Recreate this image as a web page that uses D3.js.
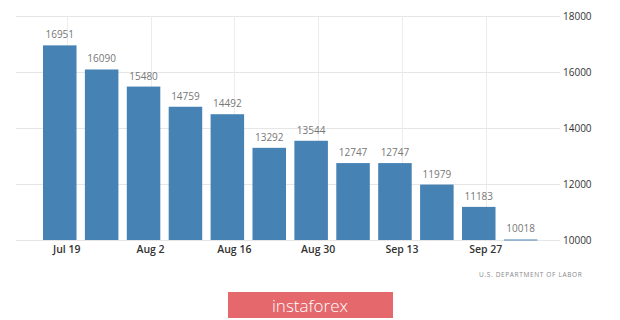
<!DOCTYPE html>
<html>
<head>
<meta charset="utf-8">
<title>Continuing claims</title>
<script src="https://d3js.org/d3.v7.min.js"></script>
<style>
  body { margin: 0; background: #fff; }
  text { font-family: "Open Sans", "DejaVu Sans", sans-serif; }
</style>
</head>
<body>
<div id="chart"></div>
<script>
// weekly values (thousands)
var weeks = ["Jul 19", "Jul 26", "Aug 2", "Aug 9", "Aug 16", "Aug 23",
             "Aug 30", "Sep 6", "Sep 13", "Sep 20", "Sep 27", "Oct 4"];
var values = [16951, 16090, 15480, 14759, 14492, 13292,
              13544, 12747, 12747, 11979, 11183, 10018];
var xTicks = ["Jul 19", "Aug 2", "Aug 16", "Aug 30", "Sep 13", "Sep 27"];
var yTicks = [10000, 12000, 14000, 16000, 18000];

var width = 620, height = 320;

var svg = d3.select("#chart")
  .append("svg")
    .attr("width", width)
    .attr("height", height);

var x = d3.scaleBand()
  .domain(weeks)
  .range([38.8, 541.6])
  .paddingInner(0.2)
  .paddingOuter(0.1);

var y = d3.scaleLinear()
  .domain([10000, 18000])
  .range([240, 16]);

// tick position sits a bit right of the bar centre
var tickX = function(d) { return x(d) + x.bandwidth() / 2 + 7; };

// horizontal grid
svg.append("g")
  .selectAll("line")
  .data(yTicks)
  .enter().append("line")
    .attr("x1", 16)
    .attr("x2", 560)
    .attr("y1", function(d) { return y(d) + 0.5; })
    .attr("y2", function(d) { return y(d) + 0.5; })
    .attr("stroke", "#e6e6e6");

// vertical grid
svg.append("g")
  .selectAll("line")
  .data(xTicks)
  .enter().append("line")
    .attr("x1", function(d) { return Math.round(tickX(d)) + 0.5; })
    .attr("x2", function(d) { return Math.round(tickX(d)) + 0.5; })
    .attr("y1", 16)
    .attr("y2", 240)
    .attr("stroke", "#ececec");

// bars
svg.append("g")
  .selectAll("rect")
  .data(values)
  .enter().append("rect")
    .attr("x", function(d, i) { return x(weeks[i]); })
    .attr("y", function(d) { return y(d); })
    .attr("width", x.bandwidth())
    .attr("height", function(d) { return Math.max(1, y(10000) - y(d)); })
    .attr("fill", "#4682b4");

// value labels
svg.append("g")
  .selectAll("text")
  .data(values)
  .enter().append("text")
    .attr("x", function(d, i) { return x(weeks[i]) + x.bandwidth() / 2; })
    .attr("y", function(d) { return y(d) - 7; })
    .attr("text-anchor", "middle")
    .attr("font-size", "10px")
    .attr("fill", "#777")
    .text(function(d) { return d; });

// x axis labels
svg.append("g")
  .selectAll("text")
  .data(xTicks)
  .enter().append("text")
    .attr("x", tickX)
    .attr("y", 253)
    .attr("text-anchor", "middle")
    .attr("font-size", "10.5px")
    .attr("font-weight", 600)
    .attr("fill", "#333")
    .text(function(d) { return d; });

// y axis labels (right side)
svg.append("g")
  .selectAll("text")
  .data(yTicks)
  .enter().append("text")
    .attr("x", 563)
    .attr("y", function(d) { return y(d) + 3.5; })
    .attr("font-size", "10px")
    .attr("fill", "#333")
    .text(function(d) { return d; });

// source
svg.append("text")
  .attr("x", 479)
  .attr("y", 277)
  .attr("font-size", "6.5px")
  .attr("letter-spacing", "0.65px")
  .attr("fill", "#888")
  .text("U.S. DEPARTMENT OF LABOR");

// banner
svg.append("rect")
  .attr("x", 228)
  .attr("y", 292)
  .attr("width", 165)
  .attr("height", 26)
  .attr("fill", "#e4686c");

svg.append("text")
  .attr("x", 310)
  .attr("y", 312)
  .attr("text-anchor", "middle")
  .attr("font-size", "17px")
  .attr("font-weight", 300)
  .attr("fill", "#fff")
  .text("instaforex");
</script>
</body>
</html>
